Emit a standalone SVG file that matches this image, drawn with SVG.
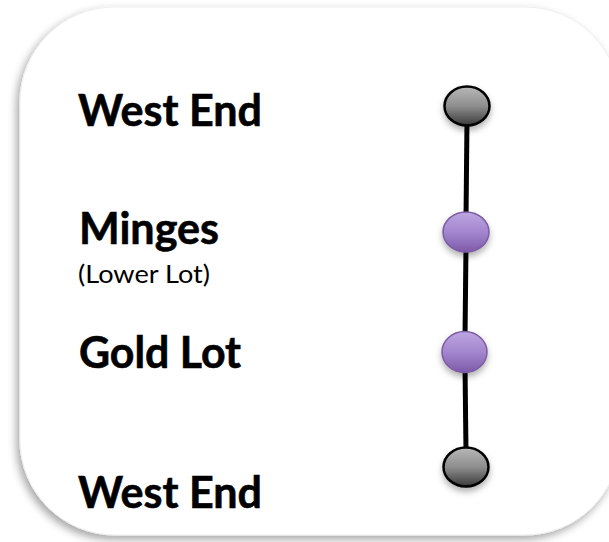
<svg xmlns="http://www.w3.org/2000/svg" width="609" height="542" viewBox="0 0 609 542">
<defs>
<linearGradient id="gGray" x1="0" y1="0" x2="0" y2="1">
<stop offset="0" stop-color="#b8b8b8"/>
<stop offset="0.5" stop-color="#8e8e8e"/>
<stop offset="1" stop-color="#3a3a3a"/>
</linearGradient>
<linearGradient id="gPurple" x1="0" y1="0" x2="0" y2="1">
<stop offset="0" stop-color="#bca6e0"/>
<stop offset="0.5" stop-color="#a386cf"/>
<stop offset="1" stop-color="#7d5aa8"/>
</linearGradient>
<filter id="frameShadow" x="-10%" y="-10%" width="120%" height="120%">
<feDropShadow dx="-3" dy="4" stdDeviation="4" flood-color="#000" flood-opacity="0.35"/>
</filter>
<filter id="nodeShadow" x="-40%" y="-40%" width="180%" height="200%">
<feDropShadow dx="0" dy="4" stdDeviation="3" flood-color="#000" flood-opacity="0.3"/>
</filter>
</defs>
<style>
.title{font-family:Lato,"Open Sans","Liberation Sans",sans-serif;font-weight:bold;font-size:43px;fill:#000;stroke:#000;stroke-width:0.6}
.sub{font-family:Lato,"Open Sans","Liberation Sans",sans-serif;font-size:25px;fill:#000}
.gray{fill:url(#gGray);stroke:#000;stroke-width:2.5;filter:url(#nodeShadow)}
.purple{fill:url(#gPurple);stroke:#7b5ca3;stroke-width:1.5;filter:url(#nodeShadow)}
.conn{stroke:#000;stroke-width:5;fill:none}
</style>
<rect width="609" height="542" fill="#fff"/>
<rect id="frame" x="20" y="7" width="600" height="528" rx="95" ry="95" fill="#fff" stroke="#efefef" stroke-width="1" filter="url(#frameShadow)"/>
<g id="connectors">
<line class="conn" x1="467" y1="120" x2="466" y2="218"/>
<line class="conn" x1="466" y1="246" x2="465" y2="338"/>
<line class="conn" x1="465" y1="366" x2="466" y2="452"/>
</g>
<g id="labels">
<text class="title" x="78" y="126" textLength="184" lengthAdjust="spacingAndGlyphs">West End</text>
<text class="title" x="79" y="244" textLength="140" lengthAdjust="spacingAndGlyphs">Minges</text>
<text class="sub" x="78" y="283" textLength="132" lengthAdjust="spacingAndGlyphs">(Lower Lot)</text>
<text class="title" x="79" y="368" textLength="162" lengthAdjust="spacingAndGlyphs">Gold Lot</text>
<text class="title" x="78" y="508" textLength="184" lengthAdjust="spacingAndGlyphs">West End</text>
</g>
<g id="node-westend-top"><ellipse class="gray" cx="467" cy="106" rx="22.5" ry="19.5"/></g>
<g id="node-minges"><ellipse class="purple" cx="466" cy="232" rx="23" ry="20"/></g>
<g id="node-goldlot"><ellipse class="purple" cx="464.5" cy="352" rx="22.5" ry="20.5"/></g>
<g id="node-westend-bottom"><ellipse class="gray" cx="466" cy="467" rx="22.5" ry="19.5"/></g>
</svg>
